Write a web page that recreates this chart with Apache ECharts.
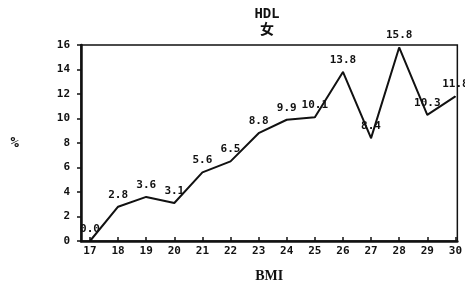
<!DOCTYPE html>
<html>
<head>
<meta charset="utf-8">
<script src="https://cdn.jsdelivr.net/npm/echarts@6/dist/echarts.min.js"></script>
<style>
  html, body { margin: 0; padding: 0; background: #fff; }
  #main { width: 465px; height: 288px; }
</style>
</head>
<body>
<div id="main"></div>
<script>
// BMI 分组 与 HDL 异常率 (%)
const bmi = [17, 18, 19, 20, 21, 22, 23, 24, 25, 26, 27, 28, 29, 30]
const hdlRate = [0.0, 2.8, 3.6, 3.1, 5.6, 6.5, 8.8, 9.9, 10.1, 13.8, 8.4, 15.8, 10.3, 11.8]
const yTicks = [0, 2, 4, 6, 8, 10, 12, 14, 16]

const chart = echarts.init(document.getElementById('main'))
const monoFont = '"DejaVu Sans Mono", "Liberation Mono", monospace'

const option = {
  animation: false,
  title: {
    text: 'HDL',
    subtext: '女',
    left: 262,
    top: 2,
    textAlign: 'center',
    itemGap: 1,
    textStyle: { fontFamily: '"Liberation Mono", monospace', fontWeight: 'bold', fontSize: 14, color: '#111' },
    subtextStyle: { fontFamily: '"Noto Sans CJK SC", sans-serif', fontWeight: 'bold', fontSize: 14, color: '#111' }
  },
  grid: {
    left: 81, right: 6, top: 45, bottom: 40,
    show: true,
    borderColor: '#111',
    borderWidth: 1.5
  },
  xAxis: {
    type: 'value',
    min: 16.68,
    max: 30.07,
    name: 'BMI',
    nameLocation: 'middle',
    nameGap: 28,
    nameTextStyle: { fontFamily: '"Liberation Serif", serif', fontWeight: 'bold', fontSize: 14, color: '#111' },
    splitLine: { show: false },
    axisLine: { onZero: false, lineStyle: { color: '#111', width: 2.5 } },
    axisTick: { inside: true, length: 4, customValues: bmi, lineStyle: { color: '#111', width: 1.5 } },
    axisLabel: {
      customValues: bmi,
      margin: 5,
      fontFamily: monoFont, fontWeight: 'bold', fontSize: 11, color: '#111'
    }
  },
  yAxis: {
    type: 'value',
    min: 0,
    max: 16,
    interval: 2,
    name: '%',
    nameLocation: 'middle',
    nameRotate: 0,
    nameGap: 62,
    nameTextStyle: { fontFamily: monoFont, fontWeight: 'bold', fontSize: 14, color: '#111' },
    splitLine: { show: false },
    axisLine: { show: true, lineStyle: { color: '#111', width: 2.5 } },
    axisTick: { show: true, length: 4, lineStyle: { color: '#111', width: 1.5 } },
    axisLabel: {
      margin: 11,
      fontFamily: monoFont, fontWeight: 'bold', fontSize: 11, color: '#111',
      formatter: v => yTicks.includes(v) ? String(v) : ''
    }
  },
  series: [
    {
      type: 'line',
      data: bmi.map((b, i) => [b, hdlRate[i]]),
      showSymbol: true,
      symbol: 'circle',
      symbolSize: 1,
      itemStyle: { color: '#111' },
      lineStyle: { color: '#111', width: 2 },
      label: {
        show: true,
        position: 'top',
        distance: 6,
        fontFamily: monoFont, fontWeight: 'bold', fontSize: 11, color: '#111',
        formatter: p => p.value[1].toFixed(1)
      }
    }
  ]
}

chart.setOption(option)
</script>
</body>
</html>
